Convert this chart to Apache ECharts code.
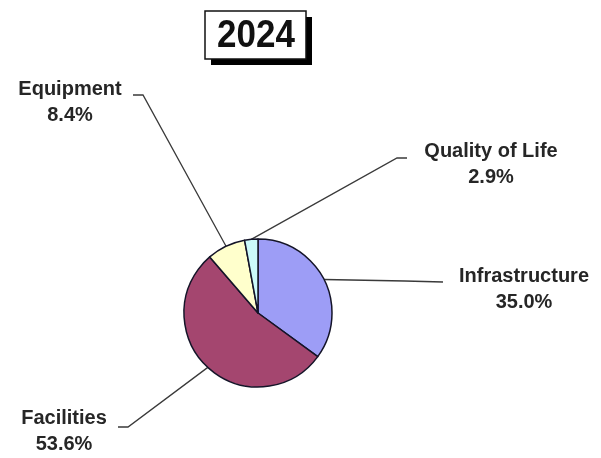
<!DOCTYPE html>
<html>
<head>
<meta charset="utf-8">
<script src="https://cdn.jsdelivr.net/npm/echarts@6/dist/echarts.min.js"></script>
<style>
html,body{margin:0;padding:0;background:#fff;}
#chart{width:601px;height:458px;}
</style>
</head>
<body>
<div id="chart"></div>
<script>
// ---- data ----
var titleText = '2024';
var categories = ['Infrastructure', 'Facilities', 'Equipment', 'Quality of Life'];
var values = [35.0, 53.6, 8.4, 2.9];
var sliceColors = ['#9d9df6', '#a4466f', '#ffffcc', '#ccfafa'];

// ---- label placement (decoration only) ----
var labelPlaces = [
  { x: 524, y: 289, elbow: [405, 281], end: [443, 282] },
  { x: 64,  y: 431, elbow: [128, 427], end: [118, 427] },
  { x: 70,  y: 102, elbow: [143, 95],  end: [133, 95] },
  { x: 491, y: 164, elbow: [397, 158], end: [407, 158] }
];

var chart = echarts.init(document.getElementById('chart'), null, { renderer: 'canvas' });

var data = categories.map(function (c, i) {
  return { name: c, value: values[i], itemStyle: { color: sliceColors[i] } };
});

var option = {
  backgroundColor: '#ffffff',
  animation: false,
  graphic: [
    { type: 'rect', shape: { x: 211, y: 17, width: 101, height: 48 }, style: { fill: '#000' } },
    { type: 'rect', shape: { x: 205, y: 11, width: 101, height: 48 }, style: { fill: '#fff', stroke: '#111', lineWidth: 1.5 } },
    { type: 'text', x: 256, y: 36, scaleY: 1.12,
      style: { text: titleText, x: 0, y: 0, align: 'center', verticalAlign: 'middle',
               font: 'bold 35px "Liberation Sans", Arial, sans-serif', fill: '#111' } }
  ],
  series: [{
    type: 'pie',
    center: [258, 313],
    radius: 74,
    startAngle: 90,
    clockwise: true,
    avoidLabelOverlap: false,
    data: data,
    itemStyle: { borderColor: '#141428', borderWidth: 1.5 },
    label: {
      show: true,
      position: 'outside',
      formatter: function (p) { return p.name + '\n' + p.value.toFixed(1) + '%'; },
      fontFamily: '"Liberation Sans", Arial, sans-serif',
      fontSize: 20,
      fontWeight: 'bold',
      lineHeight: 26,
      color: '#262626',
      align: 'center'
    },
    labelLine: {
      show: true,
      length: 10,
      length2: 10,
      lineStyle: { color: '#3a3a3a', width: 1.3 }
    },
    labelLayout: function (p) {
      var L = labelPlaces[p.dataIndex];
      var start = p.labelLinePoints ? p.labelLinePoints[0] : L.elbow;
      return {
        x: L.x, y: L.y,
        align: 'center', verticalAlign: 'middle',
        labelLinePoints: [start, L.elbow, L.end]
      };
    },
    emphasis: { disabled: true }
  }]
};
chart.setOption(option);
</script>
</body>
</html>
